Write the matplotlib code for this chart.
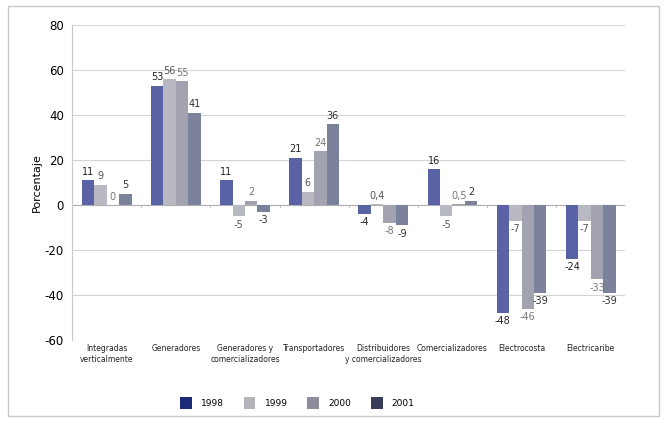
import matplotlib
matplotlib.use("Agg")
import matplotlib.pyplot as plt
from matplotlib.patches import Patch, Rectangle
import numpy as np

categories = ["Integradas\nverticalmente", "Generadores", "Generadores y\ncomercializadores",
              "Transportadores", "Distribuidores\ny comercializadores", "Comercializadores",
              "Electrocosta", "Electricaribe"]
years = ["1998", "1999", "2000", "2001"]
v1998 = [11, 53, 11, 21, -4, 16, -48, -24]
v1999 = [9, 56, -5, 6, 0.4, -5, -7, -7]
v2000 = [0, 55, 2, 24, -8, 0.5, -46, -33]
v2001 = [5, 41, -3, 36, -9, 2, -39, -39]
labels1998 = ["11", "53", "11", "21", "-4", "16", "-48", "-24"]
labels1999 = ["9", "56", "-5", "6", "0,4", "-5", "-7", "-7"]
labels2000 = ["0", "55", "2", "24", "-8", "0,5", "-46", "-33"]
labels2001 = ["5", "41", "-3", "36", "-9", "2", "-39", "-39"]
yticks = [-60, -40, -20, 0, 20, 40, 60, 80]

series = [v1998, v1999, v2000, v2001]
series_labels = [labels1998, labels1999, labels2000, labels2001]
bar_colors = ["#5a62a6", "#b9b9c2", "#a2a2b0", "#7d829c"]
legend_colors = ["#1c2a78", "#b4b4ba", "#8c8c9a", "#3a3c5c"]
label_colors = ["#222222", "#555555", "#777777", "#333333"]

fig = plt.figure(figsize=(6.68, 4.22), dpi=100)
fig.patches.append(Rectangle((0.012, 0.015), 0.975, 0.97, transform=fig.transFigure,
                             fill=False, edgecolor="#c8c8c8", linewidth=1.0))
ax = fig.add_axes([0.108, 0.194, 0.828, 0.747])

n = len(categories)
x = np.arange(n)
w = 0.18
for i, (vals, labs) in enumerate(zip(series, series_labels)):
    xs = x + (i - 1.5) * w
    ax.bar(xs, vals, width=w, color=bar_colors[i], edgecolor="none", zorder=3)
    for xi, v, lab in zip(xs, vals, labs):
        if v >= 0:
            ax.text(xi, v + 1.5, lab, ha="center", va="bottom", fontsize=7,
                    color=label_colors[i], zorder=4)
        else:
            ax.text(xi, v - 1.5, lab, ha="center", va="top", fontsize=7,
                    color=label_colors[i], zorder=4)

ax.set_xlim(-0.5, n - 0.5)
ax.set_ylim(-60, 80)
ax.set_yticks(yticks)
ax.set_yticklabels([str(t) for t in yticks], fontsize=8.5)
ax.yaxis.grid(True, color="#d4d4d4", linewidth=0.8, zorder=0)
ax.axhline(0, color="#b0b0b0", linewidth=0.8, zorder=2)
for b in np.arange(n + 1) - 0.5:
    ax.plot([b, b], [-1, 0], color="#b0b0b0", linewidth=0.6, zorder=2)
ax.set_xticks(x)
ax.set_xticklabels(categories, fontsize=5.5, color="#222222")
ax.tick_params(axis="x", length=0, pad=3)
ax.tick_params(axis="y", length=0, pad=6)
for s in ["top", "right", "bottom"]:
    ax.spines[s].set_visible(False)
ax.spines["left"].set_color("#c8c8c8")
ax.set_ylabel("Porcentaje", fontsize=8, labelpad=2)

handles = [Patch(facecolor=c, edgecolor="none") for c in legend_colors]
fig.legend(handles, years, loc="center", bbox_to_anchor=(0.445, 0.045), ncol=4,
           frameon=False, fontsize=6.5, handlelength=1.3, handleheight=1.6,
           columnspacing=2.2, handletextpad=1.0)

fig.savefig("out.png", dpi=100)
